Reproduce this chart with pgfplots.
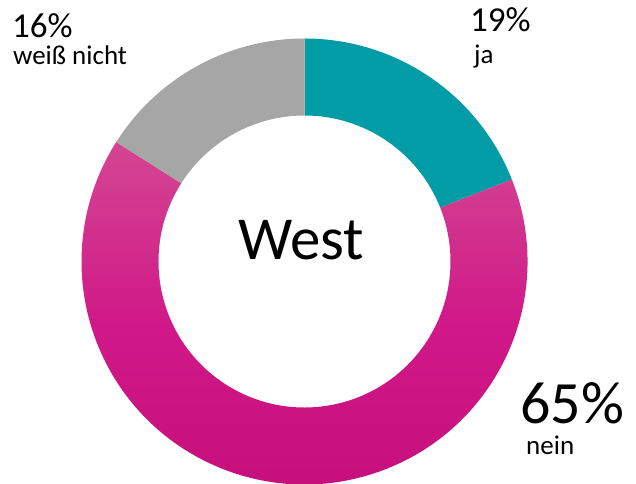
\documentclass[border=0pt]{standalone}
\usepackage{pgfplots}
\usepackage{pgfplotstable}
\usepackage{fontspec}
\setmainfont{Carlito}
\pgfplotsset{compat=1.18}
\definecolor{jaTeal}{RGB}{2,156,166}
\definecolor{weissGray}{RGB}{166,166,166}
\definecolor{neinTop}{RGB}{212,70,146}
\definecolor{neinMid}{RGB}{208,24,136}
\definecolor{neinBot}{RGB}{197,14,122}

% share of answers, in percent
\pgfplotstableread{
label value
ja    19
nein  65
weiss 16
}\donutdata

\begin{document}
\begin{tikzpicture}
\pgfplotstablegetelem{0}{value}\of\donutdata \let\vja\pgfplotsretval
\pgfplotstablegetelem{1}{value}\of\donutdata \let\vnein\pgfplotsretval
\pgfplotstablegetelem{2}{value}\of\donutdata \let\vweiss\pgfplotsretval
\pgfmathsetmacro\aA{90}
\pgfmathsetmacro\aB{\aA-3.6*\vja}
\pgfmathsetmacro\aC{\aB-3.6*\vnein}
\pgfmathsetmacro\aD{\aC-3.6*\vweiss}
\def\cx{304.5}\def\cy{222.5}\def\R{223}\def\r{146}
\newcommand\sector[3]{%
  \path[#3] (axis cs:{\cx+\R*cos(#1)},{\cy+\R*sin(#1)})
    arc[start angle=#1, end angle=#2, radius=\R]
    -- (axis cs:{\cx+\r*cos(#2)},{\cy+\r*sin(#2)})
    arc[start angle=#2, end angle=#1, radius=\r] -- cycle;}
\begin{axis}[
  width=636bp, height=484bp, scale only axis,
  xmin=0, xmax=636, ymin=0, ymax=484,
  hide axis, clip=false,
]
  \sector{\aA}{\aB}{fill=jaTeal}
  \sector{\aB}{\aC}{top color=neinTop, bottom color=neinBot, middle color=neinMid}
  \sector{\aC}{\aD}{fill=weissGray}

  \node[anchor=base, inner sep=0, font=\fontsize{61bp}{61bp}\selectfont] at (axis cs:301,224.7) {West};

  \node[anchor=base west, inner sep=0, text depth=0pt, font=\fontsize{35bp}{35bp}\selectfont] at (axis cs:12,446.3) {\vweiss\%};
  \node[anchor=base west, inner sep=0, font=\fontsize{27bp}{27bp}\selectfont] at (axis cs:13,419) {weiß nicht};

  \node[anchor=base west, inner sep=0, text depth=0pt, font=\fontsize{35bp}{35bp}\selectfont] at (axis cs:470,452.3) {\vja\%};
  \node[anchor=base west, inner sep=0, font=\fontsize{27bp}{27bp}\selectfont] at (axis cs:474,420.7) {ja};

  \node[anchor=base west, inner sep=0, text depth=0pt, font=\fontsize{60bp}{60bp}\selectfont] at (axis cs:520,60.7) {\vnein\%};
  \node[anchor=base west, inner sep=0, font=\fontsize{27bp}{27bp}\selectfont] at (axis cs:526,29) {nein};
\end{axis}
\pgfresetboundingbox
\path (current axis.south west) rectangle (current axis.north east);
\end{tikzpicture}
\end{document}
